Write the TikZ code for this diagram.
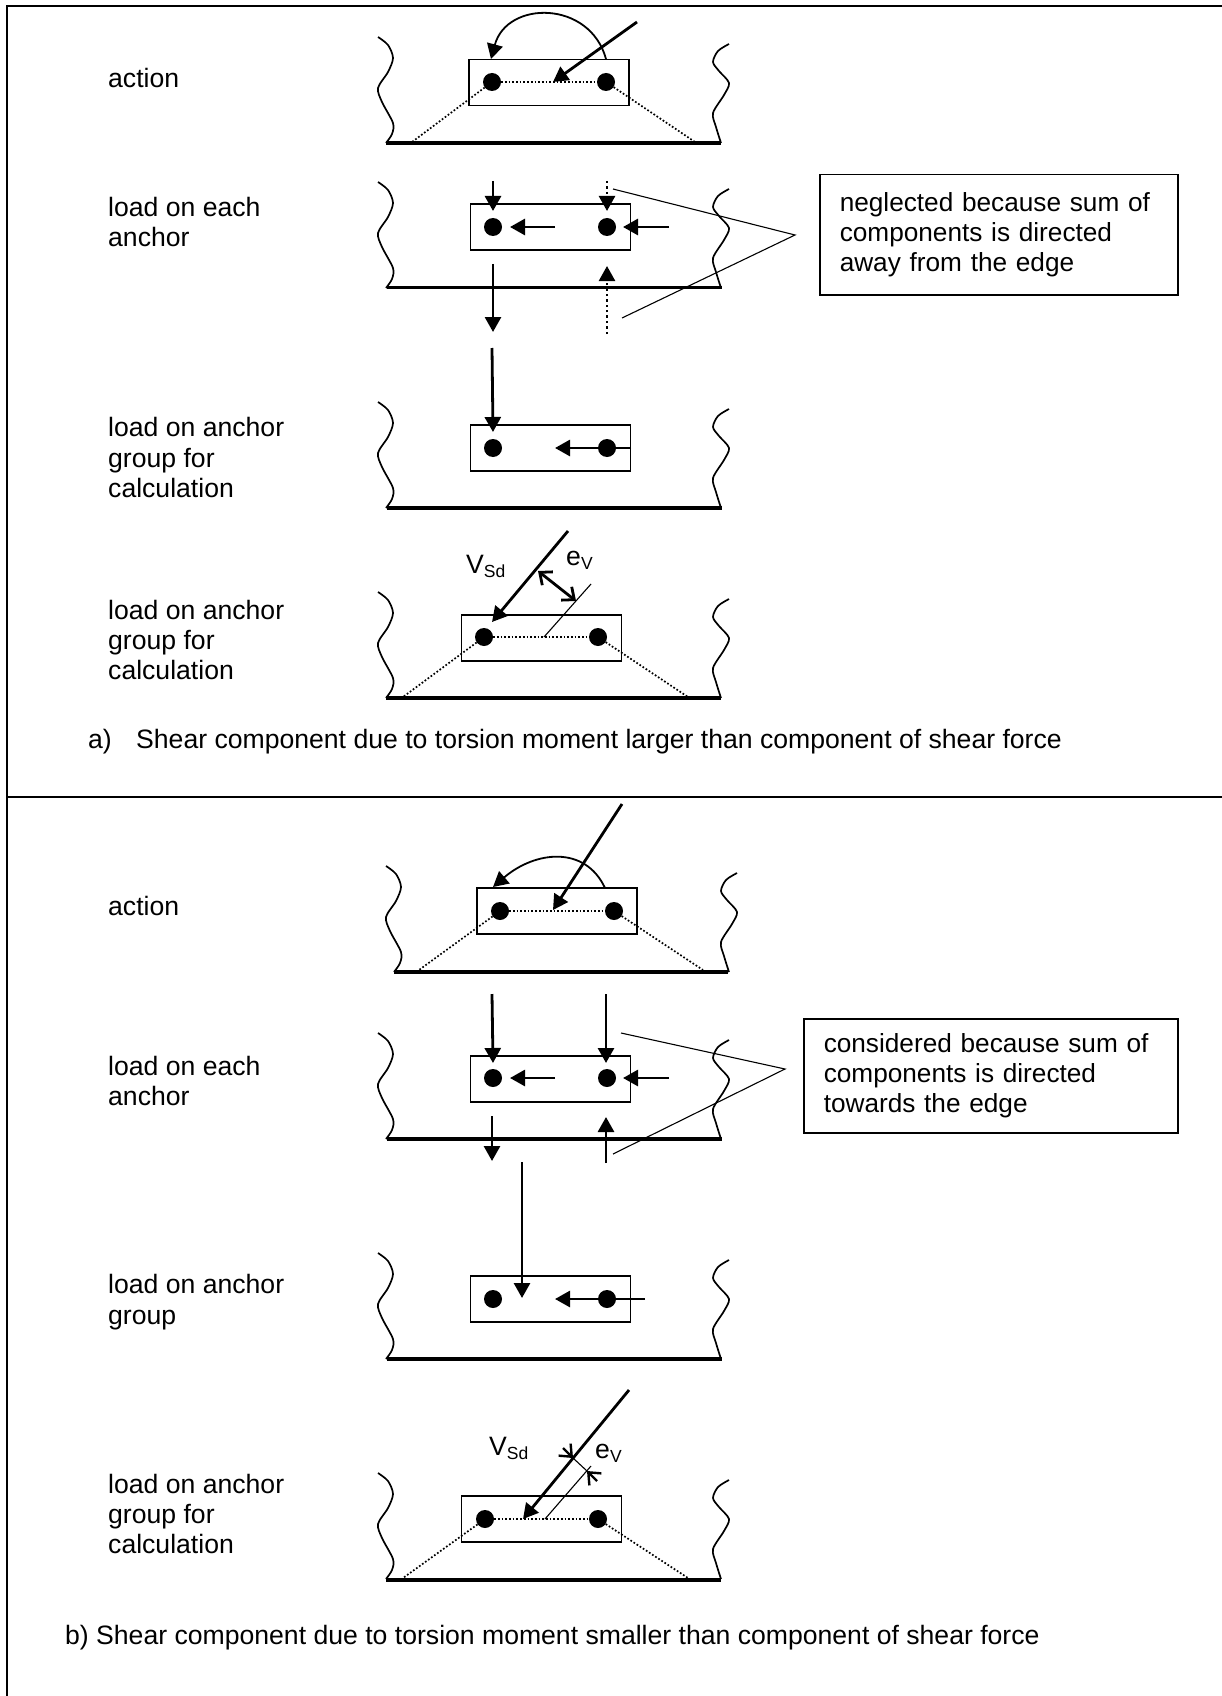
\documentclass[tikz,border=0pt]{standalone}
\usepackage{fontspec}
\setmainfont{Liberation Sans}
\usetikzlibrary{arrows.meta, calc}
\newcommand{\lowtext}[1]{\raisebox{-4pt}{\fontsize{17.5}{17.5}\selectfont #1}}
\tikzset{
  frameline/.style={line width=2pt},
  edgeline/.style={line width=3.8pt},
  wallline/.style={line width=1.7pt, smooth},
  plate/.style={draw, line width=1.8pt, minimum width=160pt, minimum height=46pt, inner sep=0pt},
  anchordot/.style={circle, fill=black, minimum size=18pt, inner sep=0pt},
  load/.style={line width=2.8pt, -{Triangle[length=15pt,width=16pt]}},
  dottedload/.style={line width=2.4pt, dash pattern=on 2.4pt off 3pt, -{Triangle[length=15pt,width=16pt]}},
  moment/.style={line width=1.8pt, -{Triangle[length=15pt,width=16pt]}},
  openarrow/.style={line width=2.8pt, {Straight Barb[length=10pt,width=17pt]}-{Straight Barb[length=10pt,width=17pt]}},
  stoparrow/.style={line width=2.4pt, -{Straight Barb[length=10pt,width=17pt]}},
  coneline/.style={line width=1.7pt, dash pattern=on 1.7pt off 2pt},
  thinline/.style={line width=1.1pt},
  lefttext/.style={anchor=west, inner sep=0pt, align=left, font=\fontsize{26.6}{30.3}\selectfont},
  basetext/.style={anchor=base west, inner sep=0pt, font=\fontsize{26.6}{30.3}\selectfont},
  callout/.style={draw, line width=1.5pt, anchor=north west, align=left, inner sep=0pt, font=\fontsize{26.2}{30.3}\selectfont},
  wallpair/.pic={
    \draw[wallline] plot coordinates {(378,37) (388,45) (393,58) (388,72) (378,88) (382,102) (393,123) (392,134) (386,143)};
    \draw[wallline] plot coordinates {(729,44) (718,51) (713,62) (719,71) (729,83) (724,95) (713,113) (716,127) (721,143)};
  }
}
\begin{document}
\begin{tikzpicture}[x=1pt, y=-1pt]
  \useasboundingbox (0,0) rectangle (1222,1696);

  % Frame
  \coordinate (frameTL) at (6.5,6);
  \coordinate (frameTR) at (1222,6);
  \coordinate (frameBL) at (6.5,1696);
  \coordinate (midL) at (6.5,797);
  \coordinate (midR) at (1222,797);
  \draw[frameline] (frameBL) -- (frameTL) -- (frameTR);
  \draw[frameline] (midL) -- (midR);

  % Concrete member walls
  \pic (wallA1) at (0,0) {wallpair};
  \pic (wallA2) at (0,145) {wallpair};
  \pic (wallA3) at (0,365) {wallpair};
  \pic (wallA4) at (0,555) {wallpair};
  \pic (wallB1) at (8,829) {wallpair};
  \pic (wallB2) at (0,996) {wallpair};
  \pic (wallB3) at (0,1216) {wallpair};
  \pic (wallB4) at (0,1436) {wallpair};

  % Part a, action
  \node[lefttext] (txtA1) at (108,78) {action};
  \coordinate (edgeA1l) at (386,143);
  \coordinate (edgeA1r) at (721,143);
  \draw[edgeline] (edgeA1l) -- (edgeA1r);
  \node[plate] (plateA1) at (549,82.5) {};
  \coordinate (coneA1l) at (412,142);
  \coordinate (coneA1r) at (695,142);
  \coordinate (midA1) at (553,82);
  \coordinate (loadA1) at (637,22);
  \coordinate (arcA1s) at (606,59);
  \coordinate (arcA1e) at (491,59);
  \node[anchordot] (dotA1l) at (492,82) {};
  \node[anchordot] (dotA1r) at (606,82) {};
  \draw[coneline] (dotA1l) -- (dotA1r);
  \draw[coneline] (dotA1l) -- (coneA1l);
  \draw[coneline] (dotA1r) -- (coneA1r);
  \draw[moment] (arcA1s) .. controls (590,0) and (507,0) .. (arcA1e);
  \draw[load] (loadA1) -- (midA1);

  % Part a, load on each anchor
  \node[lefttext] (txtA2) at (108,222) {load on each\\anchor};
  \coordinate (edgeA2l) at (387,287.5);
  \coordinate (edgeA2r) at (722,287.5);
  \draw[edgeline] (edgeA2l) -- (edgeA2r);
  \node[plate] (plateA2) at (550.5,227) {};
  \node[anchordot] (dotA2l) at (493,227) {};
  \node[anchordot] (dotA2r) at (607,227) {};
  \coordinate (topA2l) at (493,181);
  \coordinate (tipA2l) at (493,211);
  \coordinate (topA2r) at (607,181);
  \coordinate (tipA2r) at (607,211);
  \coordinate (tailA2m) at (555,227);
  \coordinate (tipA2m) at (510,227);
  \coordinate (tailA2o) at (669,227);
  \coordinate (tipA2o) at (623,227);
  \coordinate (downA2s) at (493,264);
  \coordinate (downA2e) at (493,332);
  \coordinate (upA2s) at (607,334);
  \coordinate (upA2e) at (607,266);
  \draw[load] (topA2l) -- (tipA2l);
  \draw[dottedload] (topA2r) -- (tipA2r);
  \draw[load] (tailA2m) -- (tipA2m);
  \draw[load] (tailA2o) -- (tipA2o);
  \draw[load] (downA2s) -- (downA2e);
  \draw[dottedload] (upA2s) -- (upA2e);

  % Part a, note
  \node[callout, minimum width=358pt, minimum height=120pt, text width=318pt] (noteA) at (819,174) {neglected because sum of\\components is directed\\away from the edge};
  \coordinate (leadA) at (795,235);
  \coordinate (leadAt) at (613,189);
  \coordinate (leadAb) at (622,318);
  \draw[thinline] (leadAt) -- (leadA) -- (leadAb);

  % Part a, load on anchor group
  \node[lefttext] (txtA3) at (108,457.5) {load on anchor\\group for\\calculation};
  \coordinate (edgeA3l) at (387,508);
  \coordinate (edgeA3r) at (722,508);
  \draw[edgeline] (edgeA3l) -- (edgeA3r);
  \node[plate] (plateA3) at (550.5,448) {};
  \node[anchordot] (dotA3l) at (493,448) {};
  \node[anchordot] (dotA3r) at (607,448) {};
  \coordinate (topA3) at (492,348);
  \coordinate (tipA3) at (493,432);
  \coordinate (tailA3) at (631,448);
  \coordinate (tipA3m) at (555,448);
  \draw[load] (topA3) -- (tipA3);
  \draw[load] (tailA3) -- (tipA3m);

  % Part a, resultant
  \node[lefttext] (txtA4) at (108,640) {load on anchor\\group for\\calculation};
  \coordinate (edgeA4l) at (386,698);
  \coordinate (edgeA4r) at (721,698);
  \draw[edgeline] (edgeA4l) -- (edgeA4r);
  \node[plate] (plateA4) at (541.5,638) {};
  \node[anchordot] (dotA4l) at (484,637) {};
  \node[anchordot] (dotA4r) at (598,637) {};
  \coordinate (coneA4l) at (403,697);
  \coordinate (coneA4r) at (688,697);
  \coordinate (resA4s) at (568,531);
  \coordinate (resA4e) at (492,622);
  \coordinate (midA4) at (544,637);
  \coordinate (offA4) at (591,584);
  \coordinate (eccA4s) at (538,571);
  \coordinate (eccA4e) at (576,601);
  \draw[coneline] (dotA4l) -- (dotA4r);
  \draw[coneline] (dotA4l) -- (coneA4l);
  \draw[coneline] (dotA4r) -- (coneA4r);
  \draw[thinline] (midA4) -- (offA4);
  \draw[load] (resA4s) -- (resA4e);
  \draw[openarrow] (eccA4s) -- (eccA4e);
  \node[basetext] (vsdA) at (466,573) {V\lowtext{Sd}};
  \node[basetext] (evA) at (566,565) {e\lowtext{V}};

  % Caption a
  \node[basetext] (capAl) at (88,748) {a)};
  \node[basetext] (capA) at (136,748) {Shear component due to torsion moment larger than component of shear force};

  % Part b, action
  \node[lefttext] (txtB1) at (108,906) {action};
  \coordinate (edgeB1l) at (394,972);
  \coordinate (edgeB1r) at (728,972);
  \draw[edgeline] (edgeB1l) -- (edgeB1r);
  \node[plate] (plateB1) at (557,911) {};
  \coordinate (coneB1l) at (419,970);
  \coordinate (coneB1r) at (703,970);
  \coordinate (midB1) at (553,910);
  \coordinate (loadB1) at (622,804);
  \coordinate (arcB1s) at (605,888);
  \coordinate (arcB1e) at (493,887);
  \node[anchordot] (dotB1l) at (500,911) {};
  \node[anchordot] (dotB1r) at (614,911) {};
  \draw[coneline] (dotB1l) -- (dotB1r);
  \draw[coneline] (dotB1l) -- (coneB1l);
  \draw[coneline] (dotB1r) -- (coneB1r);
  \draw[moment] (arcB1s) .. controls (585,845) and (535,851) .. (arcB1e);
  \draw[load] (loadB1) -- (midB1);

  % Part b, load on each anchor
  \node[lefttext] (txtB2) at (108,1081) {load on each\\anchor};
  \coordinate (edgeB2l) at (387,1139);
  \coordinate (edgeB2r) at (722,1139);
  \draw[edgeline] (edgeB2l) -- (edgeB2r);
  \node[plate] (plateB2) at (550.5,1079) {};
  \node[anchordot] (dotB2l) at (493,1078) {};
  \node[anchordot] (dotB2r) at (607,1078) {};
  \coordinate (topB2l) at (492,994);
  \coordinate (tipB2l) at (493,1063);
  \coordinate (topB2r) at (606,994);
  \coordinate (tipB2r) at (606,1063);
  \coordinate (tailB2m) at (555,1078);
  \coordinate (tipB2m) at (510,1078);
  \coordinate (tailB2o) at (669,1078);
  \coordinate (tipB2o) at (623,1078);
  \coordinate (downB2s) at (492,1116);
  \coordinate (downB2e) at (492,1161);
  \coordinate (upB2s) at (606,1163);
  \coordinate (upB2e) at (606,1117);
  \draw[load] (topB2l) -- (tipB2l);
  \draw[load] (topB2r) -- (tipB2r);
  \draw[load] (tailB2m) -- (tipB2m);
  \draw[load] (tailB2o) -- (tipB2o);
  \draw[load] (downB2s) -- (downB2e);
  \draw[load] (upB2s) -- (upB2e);

  % Part b, note
  \node[callout, minimum width=374pt, minimum height=114pt, text width=334pt] (noteB) at (803,1018) {considered because sum of\\components is directed\\towards the edge};
  \coordinate (leadB) at (785,1069);
  \coordinate (leadBt) at (621,1033);
  \coordinate (leadBb) at (613,1154);
  \draw[thinline] (leadBt) -- (leadB) -- (leadBb);

  % Part b, load on anchor group
  \node[lefttext] (txtB3) at (108,1302) {load on anchor\\group};
  \coordinate (edgeB3l) at (387,1359);
  \coordinate (edgeB3r) at (722,1359);
  \draw[edgeline] (edgeB3l) -- (edgeB3r);
  \node[plate] (plateB3) at (550.5,1299) {};
  \node[anchordot] (dotB3l) at (493,1299) {};
  \node[anchordot] (dotB3r) at (607,1299) {};
  \coordinate (topB3) at (522,1162);
  \coordinate (tipB3) at (522,1298);
  \coordinate (tailB3) at (645,1299);
  \coordinate (tipB3m) at (555,1299);
  \draw[load] (topB3) -- (tipB3);
  \draw[load] (tailB3) -- (tipB3m);

  % Part b, resultant
  \node[lefttext] (txtB4) at (108,1514) {load on anchor\\group for\\calculation};
  \coordinate (edgeB4l) at (386,1580);
  \coordinate (edgeB4r) at (721,1580);
  \draw[edgeline] (edgeB4l) -- (edgeB4r);
  \node[plate] (plateB4) at (541.5,1519) {};
  \node[anchordot] (dotB4l) at (485,1519) {};
  \node[anchordot] (dotB4r) at (598,1519) {};
  \coordinate (coneB4l) at (403,1578);
  \coordinate (coneB4r) at (688,1578);
  \coordinate (resB4s) at (629,1390);
  \coordinate (resB4e) at (523,1519);
  \coordinate (midB4) at (545,1519);
  \coordinate (offB4) at (591,1466);
  \coordinate (eccB4a) at (573,1458);
  \coordinate (eccB4b) at (587,1471);
  \coordinate (stopB4a) at (563,1448);
  \coordinate (stopB4b) at (597,1481);
  \draw[coneline] (dotB4l) -- (dotB4r);
  \draw[coneline] (dotB4l) -- (coneB4l);
  \draw[coneline] (dotB4r) -- (coneB4r);
  \draw[thinline] (midB4) -- (offB4);
  \draw[thinline] (eccB4a) -- (eccB4b);
  \draw[load] (resB4s) -- (resB4e);
  \draw[stoparrow] (stopB4a) -- (eccB4a);
  \draw[stoparrow] (stopB4b) -- (eccB4b);
  \node[basetext] (vsdB) at (489,1455) {V\lowtext{Sd}};
  \node[basetext] (evB) at (595,1458) {e\lowtext{V}};

  % Caption b
  \node[basetext] (capB) at (65,1644) {b) Shear component due to torsion moment smaller than component of shear force};
\end{tikzpicture}
\end{document}
